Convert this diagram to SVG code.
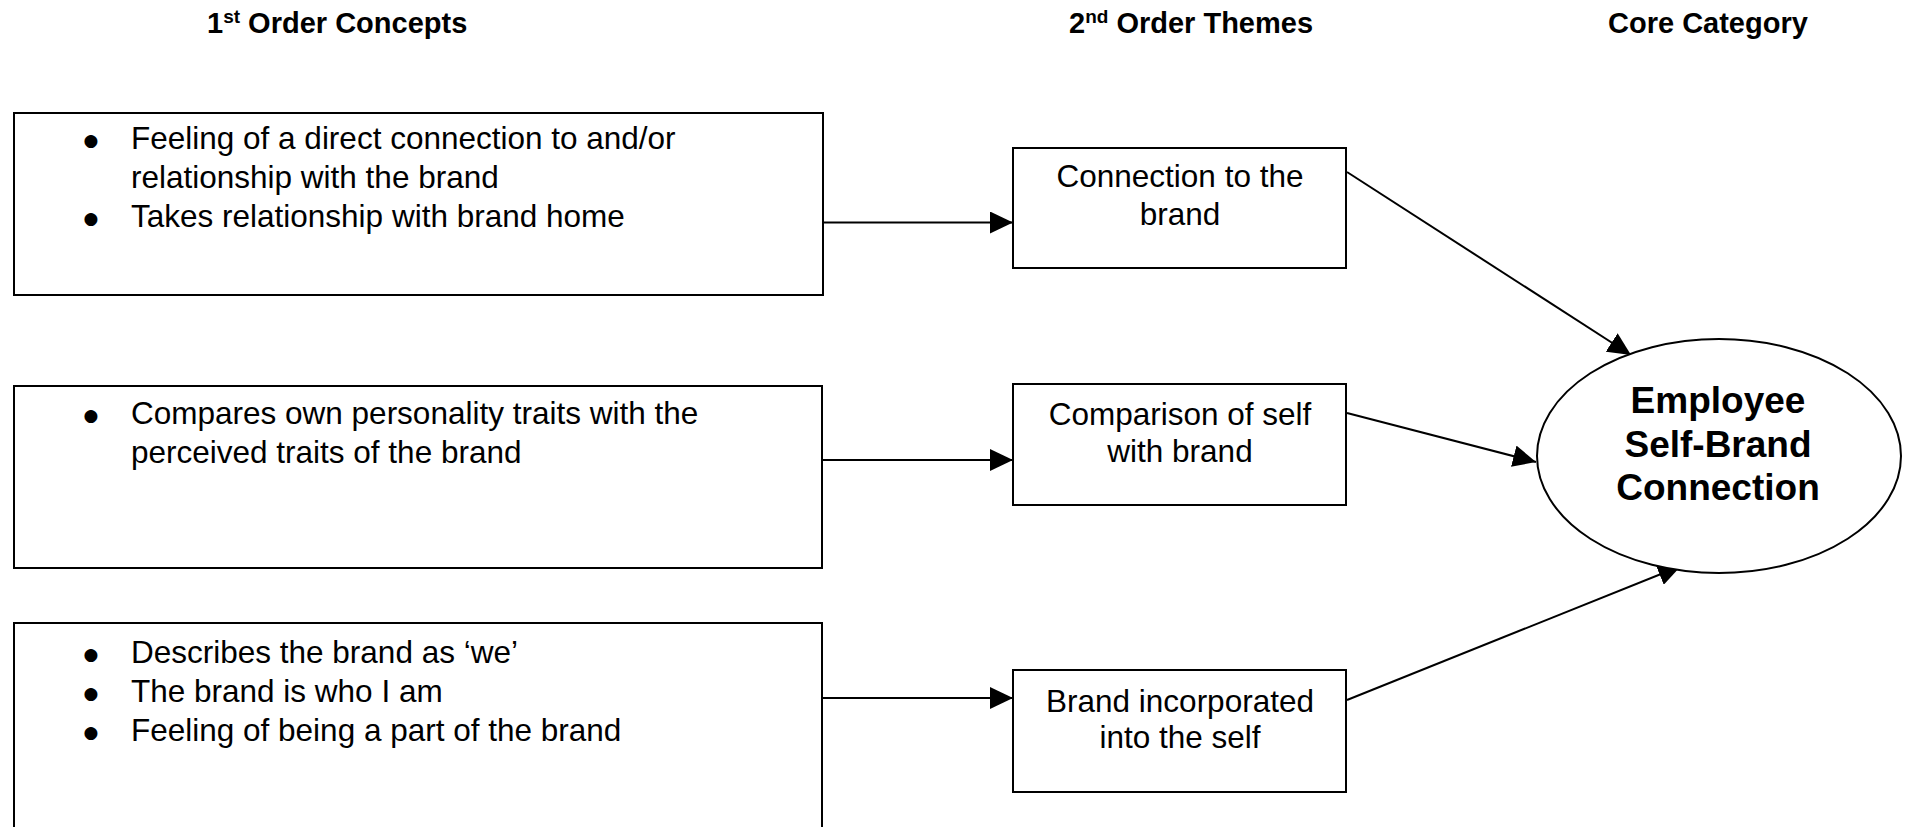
<svg xmlns="http://www.w3.org/2000/svg" width="1907" height="827" viewBox="0 0 1907 827">
  <style>
    text { font-family: "Liberation Sans", Arial, Helvetica, sans-serif; fill: #000; }
    .hdr { font-size: 29px; font-weight: bold; }
    .sup { font-size: 19px; }
    .item { font-size: 31.5px; }
    .bul { font-size: 17px; text-anchor: middle; font-family: "DejaVu Sans", sans-serif; }
    .theme { font-size: 31.5px; text-anchor: middle; }
    .core { font-size: 37px; font-weight: bold; text-anchor: middle; }
    .box { fill: #fff; stroke: #000; stroke-width: 2; }
    .link { fill: none; stroke: #000; stroke-width: 2; }
  </style>
  <defs>
    <marker id="arrow" markerUnits="userSpaceOnUse" markerWidth="24" markerHeight="22" viewBox="0 0 24 22" refX="23" refY="11" orient="auto">
      <path d="M0,0 L23,11 L0,22 z" fill="#000"/>
    </marker>
  </defs>

  <rect width="1907" height="827" fill="#fff"/>

  <!-- column headings -->
  <g id="headings">
    <text class="hdr" x="207" y="33">1<tspan class="sup" dy="-10">st</tspan><tspan dy="10"> Order Concepts</tspan></text>
    <text class="hdr" x="1069" y="33">2<tspan class="sup" dy="-10">nd</tspan><tspan dy="10"> Order Themes</tspan></text>
    <text class="hdr" x="1608" y="33">Core Category</text>
  </g>

  <!-- connectors -->
  <g id="connectors">
    <line class="link" x1="823" y1="222.5" x2="1013" y2="222.5" marker-end="url(#arrow)"/>
    <line class="link" x1="822" y1="460" x2="1013" y2="460" marker-end="url(#arrow)"/>
    <line class="link" x1="822" y1="698" x2="1013" y2="698" marker-end="url(#arrow)"/>
    <line class="link" x1="1347" y1="172" x2="1631" y2="355" marker-end="url(#arrow)"/>
    <line class="link" x1="1347" y1="413" x2="1536" y2="462" marker-end="url(#arrow)"/>
    <line class="link" x1="1347" y1="700" x2="1681" y2="566" marker-end="url(#arrow)"/>
  </g>

  <!-- first-order concepts -->
  <g id="concepts-connection">
    <rect class="box" x="14" y="113" width="809" height="182"/>
    <text class="bul" x="91" y="146">●</text>
    <text class="item" x="131" y="149">Feeling of a direct connection to and/or</text>
    <text class="item" x="131" y="188">relationship with the brand</text>
    <text class="bul" x="91" y="224">●</text>
    <text class="item" x="131" y="227">Takes relationship with brand home</text>
  </g>

  <g id="concepts-comparison">
    <rect class="box" x="14" y="386" width="808" height="182"/>
    <text class="bul" x="91" y="421">●</text>
    <text class="item" x="131" y="424">Compares own personality traits with the</text>
    <text class="item" x="131" y="463">perceived traits of the brand</text>
  </g>

  <g id="concepts-incorporation">
    <rect class="box" x="14" y="623" width="808" height="220"/>
    <text class="bul" x="91" y="660">●</text>
    <text class="item" x="131" y="663">Describes the brand as ‘we’</text>
    <text class="bul" x="91" y="699">●</text>
    <text class="item" x="131" y="702">The brand is who I am</text>
    <text class="bul" x="91" y="738">●</text>
    <text class="item" x="131" y="741">Feeling of being a part of the brand</text>
  </g>

  <!-- second-order themes -->
  <g id="theme-connection">
    <rect class="box" x="1013" y="148" width="333" height="120"/>
    <text class="theme" x="1180" y="187">Connection to the</text>
    <text class="theme" x="1180" y="225">brand</text>
  </g>

  <g id="theme-comparison">
    <rect class="box" x="1013" y="384" width="333" height="121"/>
    <text class="theme" x="1180" y="425">Comparison of self</text>
    <text class="theme" x="1180" y="462">with brand</text>
  </g>

  <g id="theme-incorporation">
    <rect class="box" x="1013" y="670" width="333" height="122"/>
    <text class="theme" x="1180" y="712">Brand incorporated</text>
    <text class="theme" x="1180" y="748">into the self</text>
  </g>

  <!-- core category -->
  <g id="core">
    <ellipse class="box" cx="1719" cy="456" rx="182" ry="117"/>
    <text class="core" x="1718" y="413">Employee</text>
    <text class="core" x="1718" y="457">Self-Brand</text>
    <text class="core" x="1718" y="500">Connection</text>
  </g>
</svg>
